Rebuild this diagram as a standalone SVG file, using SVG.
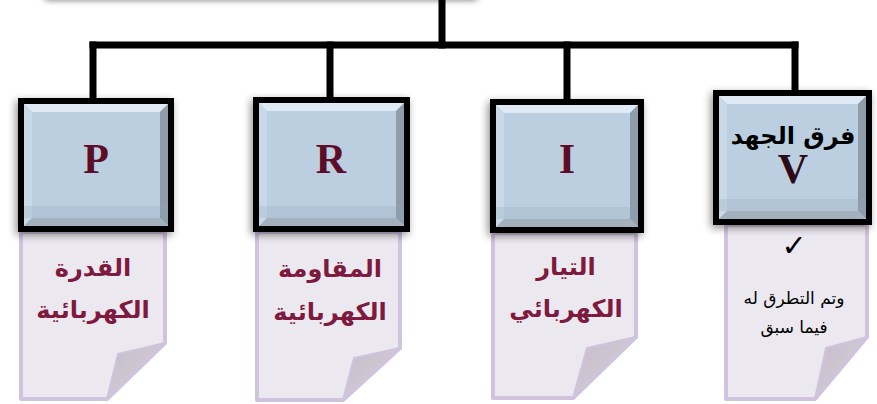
<svg xmlns="http://www.w3.org/2000/svg" width="877" height="404" viewBox="0 0 877 404">
<defs>
<filter id="sh" x="-20%" y="-20%" width="140%" height="140%">
<feGaussianBlur in="SourceAlpha" stdDeviation="4"/>
<feOffset dx="-2" dy="3" result="b"/>
<feComponentTransfer><feFuncA type="linear" slope="0.45"/></feComponentTransfer>
<feMerge><feMergeNode/><feMergeNode in="SourceGraphic"/></feMerge>
</filter>
<filter id="blur" x="-10%" y="-200%" width="120%" height="500%"><feGaussianBlur stdDeviation="3"/></filter>
<linearGradient id="fold" x1="0" y1="0" x2="1" y2="1">
<stop offset="0" stop-color="#c4bcc9"/><stop offset="1" stop-color="#d8d2db"/>
</linearGradient>
</defs>
<style>
.ln{stroke:#000;stroke-width:7;fill:none;stroke-linecap:square}
.paper{fill:#ece8f0;stroke:#cfc3de;stroke-width:4;stroke-linejoin:round}
.foldc{fill:url(#fold);stroke:#cfc3de;stroke-width:2;stroke-linejoin:round}
.frame{fill:#000}
.face{fill:#bccfe0}
.bt{fill:#dfeaf4}
.bl{fill:#c9d8e6}
.br{fill:#8f9dab}
.bb{fill:#a3b1bf}
.band{fill:#8fa3b8;opacity:0.25}
.big{font-family:"Liberation Serif",serif;font-weight:bold;font-size:42px;fill:#5e0d27;text-anchor:middle}
.ar{font-family:"DejaVu Sans",sans-serif;font-weight:bold;font-size:24px;fill:#7d1a3e;text-anchor:middle}
.arh{font-family:"DejaVu Sans",sans-serif;font-weight:bold;font-size:24px;fill:#000;text-anchor:middle}
.note{font-family:"DejaVu Sans",sans-serif;font-size:17px;fill:#000;text-anchor:middle}
</style>
<rect x="45" y="-12" width="432" height="12" fill="#777" filter="url(#blur)"/>
<g id="connectors">
<path class="ln" d="M442 0 V45"/>
<path class="ln" d="M93 45 H795"/>
<path class="ln" d="M93 45 V97"/>
<path class="ln" d="M330 45 V97"/>
<path class="ln" d="M567 45 V99"/>
<path class="ln" d="M795 45 V90"/>
</g>
<g id="node-P">
<path class="paper" d="M21 232 H165 V343 L107 399 H21 Z"/>
<path class="foldc" d="M165 343 L118 354 L107 399 Z"/>
<g filter="url(#sh)"><rect class="frame" x="18" y="98" width="156" height="134"/></g>
<rect class="face" x="24" y="104" width="144" height="122"/>
<polygon class="bt" points="24,104 168,104 160,112 32,112"/>
<polygon class="bl" points="24,104 32,112 32,218 24,226"/>
<polygon class="br" points="168,104 168,226 160,218 160,112"/>
<polygon class="bb" points="24,226 168,226 160,218 32,218"/>
<rect class="band" x="24" y="206" width="144" height="12"/>
<text class="big" x="96" y="173">P</text>
<text class="ar" x="93" y="276">القدرة</text>
<text class="ar" x="93" y="318">الكهربائية</text>
</g>
<g id="node-R">
<path class="paper" d="M257 232 H400 V348 L343 400 H257 Z"/>
<path class="foldc" d="M400 348 L354 358 L343 400 Z"/>
<g filter="url(#sh)"><rect class="frame" x="253" y="97" width="157" height="135"/></g>
<rect class="face" x="259" y="103" width="145" height="123"/>
<polygon class="bt" points="259,103 404,103 396,111 267,111"/>
<polygon class="bl" points="259,103 267,111 267,218 259,226"/>
<polygon class="br" points="404,103 404,226 396,218 396,111"/>
<polygon class="bb" points="259,226 404,226 396,218 267,218"/>
<rect class="band" x="259" y="206" width="145" height="12"/>
<text class="big" x="331" y="173">R</text>
<text class="ar" x="330" y="277">المقاومة</text>
<text class="ar" x="330" y="320">الكهربائية</text>
</g>
<g id="node-I">
<path class="paper" d="M493 233 H636 V337 L573 398 H493 Z"/>
<path class="foldc" d="M636 337 L587 348 L573 398 Z"/>
<g filter="url(#sh)"><rect class="frame" x="490" y="99" width="154" height="134"/></g>
<rect class="face" x="496" y="105" width="142" height="122"/>
<polygon class="bt" points="496,105 638,105 630,113 504,113"/>
<polygon class="bl" points="496,105 504,113 504,219 496,227"/>
<polygon class="br" points="638,105 638,227 630,219 630,113"/>
<polygon class="bb" points="496,227 638,227 630,219 504,219"/>
<rect class="band" x="496" y="207" width="142" height="12"/>
<text class="big" x="567" y="173">I</text>
<text class="ar" x="566" y="275">التيار</text>
<text class="ar" x="566" y="317">الكهربائي</text>
</g>
<g id="node-V">
<path class="paper" d="M726 225 H867 V337 L815 399 H726 Z"/>
<path class="foldc" d="M867 337 L826 348 L815 399 Z"/>
<g filter="url(#sh)"><rect class="frame" x="713" y="90" width="159" height="135"/></g>
<rect class="face" x="719" y="96" width="147" height="123"/>
<polygon class="bt" points="719,96 866,96 858,104 727,104"/>
<polygon class="bl" points="719,96 727,104 727,211 719,219"/>
<polygon class="br" points="866,96 866,219 858,211 858,104"/>
<polygon class="bb" points="719,219 866,219 858,211 727,211"/>
<rect class="band" x="719" y="199" width="147" height="12"/>
<text class="arh" x="793" y="144">فرق الجهد</text>
<text class="big" x="793" y="183" style="fill:#2e0a16">V</text>
<text class="note" x="794" y="256" style="font-size:30px">✓</text>
<text class="note" x="794" y="304">وتم التطرق له</text>
<text class="note" x="794" y="333">فيما سبق</text>
</g>
</svg>
